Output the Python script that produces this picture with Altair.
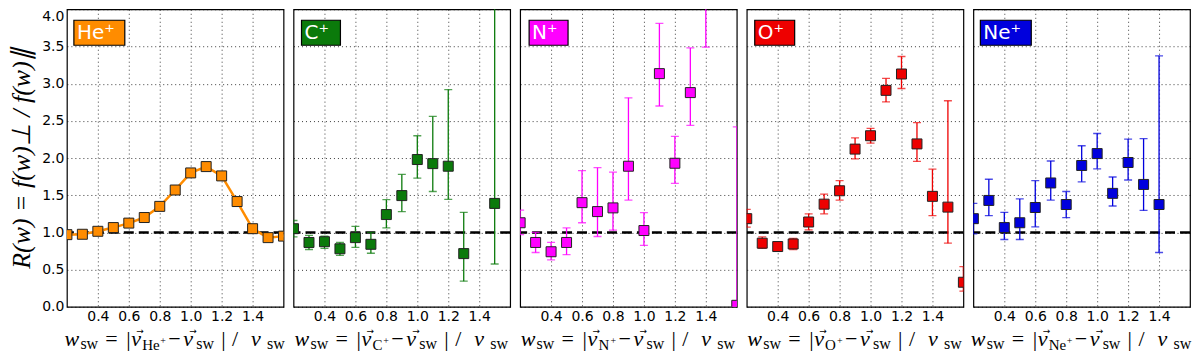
import altair as alt
import pandas as pd

# ---- data ----
w_vals = [0.2, 0.3, 0.4, 0.5, 0.6, 0.7, 0.8, 0.9, 1.0, 1.1, 1.2, 1.3, 1.4, 1.5, 1.6]

he_w = w_vals
he_r = [0.97, 0.975, 1.015, 1.065, 1.125, 1.20, 1.35, 1.57, 1.80, 1.885, 1.76, 1.415, 1.05, 0.93, 0.95]

c_w = [0.2, 0.3, 0.4, 0.5, 0.6, 0.7, 0.8, 0.9, 1.0, 1.1, 1.2, 1.3, 1.5]
c_r = [1.05, 0.865, 0.875, 0.78, 0.93, 0.84, 1.24, 1.495, 1.98, 1.925, 1.89, 0.715, 1.39]
c_lo = [0.94, 0.77, 0.785, 0.69, 0.80, 0.72, 1.06, 1.28, 1.73, 1.55, 1.445, 0.345, 0.575]
c_hi = [1.16, 0.96, 0.95, 0.865, 1.08, 1.00, 1.44, 1.78, 2.30, 2.56, 2.92, 1.27, 4.40]

n_w = [0.2, 0.3, 0.4, 0.5, 0.6, 0.7, 0.8, 0.9, 1.0, 1.1, 1.2, 1.3, 1.4, 1.6]
n_r = [1.13, 0.865, 0.74, 0.865, 1.40, 1.28, 1.33, 1.89, 1.025, 3.135, 1.93, 2.88, 4.50, 0.02]
n_lo = [0.97, 0.73, 0.63, 0.70, 1.13, 0.945, 1.03, 1.435, 0.825, 2.70, 1.66, 2.44, 3.49, 0.0]
n_hi = [1.30, 1.00, 0.865, 1.06, 1.83, 1.87, 1.81, 2.81, 1.265, 3.81, 2.29, 3.48, 5.50, 2.42]

o_w = w_vals
o_r = [1.185, 0.855, 0.81, 0.845, 1.14, 1.38, 1.56, 2.12, 2.30, 2.91, 3.13, 2.19, 1.485, 1.34, 0.33]
o_lo = [1.07, 0.785, 0.745, 0.77, 1.035, 1.25, 1.435, 1.99, 2.20, 2.755, 2.935, 1.955, 1.225, 0.855, 0.21]
o_hi = [1.31, 0.94, 0.87, 0.92, 1.25, 1.515, 1.695, 2.27, 2.40, 3.07, 3.365, 2.475, 1.85, 2.77, 0.54]

ne_w = [0.2, 0.3, 0.4, 0.5, 0.6, 0.7, 0.8, 0.9, 1.0, 1.1, 1.2, 1.3, 1.4]
ne_r = [1.185, 1.43, 1.065, 1.13, 1.335, 1.665, 1.375, 1.90, 2.06, 1.525, 1.94, 1.645, 1.375]
ne_lo = [0.98, 1.225, 0.905, 0.905, 1.075, 1.435, 1.20, 1.68, 1.855, 1.355, 1.705, 1.295, 0.73]
ne_hi = [1.39, 1.715, 1.27, 1.45, 1.695, 1.96, 1.55, 2.165, 2.33, 1.745, 2.255, 2.26, 3.375]

ions = ["He⁺", "C⁺", "N⁺", "O⁺", "Ne⁺"]
ion_letters = ["He", "C", "N", "O", "Ne"]
colors = ["#ff8c00", "#0b7a0b", "#ff00ff", "#ee0000", "#0000dd"]

ref_level = [1.0]
x_ticks = [0.4, 0.6, 0.8, 1.0, 1.2, 1.4]
y_ticks = [0.0, 0.5, 1.0, 1.5, 2.0, 2.5, 3.0, 3.5, 4.0]

# ---- layout (pixels) ----
W, H = 217, 298
X0, X1, Y0, Y1 = 0.2, 1.6, 0.0, 4.0
box_widths = [51, 39, 39, 40, 51]
box_left = [7, 8, 9, 8, 7]
ion_letter_w = [18, 11, 12, 12, 18]
ion_block = [26, 19, 20, 20, 26]

xscale = alt.Scale(domain=[X0, X1], nice=False, zero=False)
yscale = alt.Scale(domain=[Y0, Y1], nice=False, zero=False)

fonts = {
    "it": dict(font="Liberation Serif", fontStyle="italic", fontSize=22),
    "rm": dict(font="Liberation Serif", fontStyle="normal", fontSize=22),
    "sub": dict(font="Liberation Serif", fontStyle="normal", fontSize=16),
    "ion": dict(font="Liberation Serif", fontStyle="normal", fontSize=15),
    "sup": dict(font="Liberation Serif", fontStyle="normal", fontSize=10),
    "arrow": dict(font="DejaVu Sans", fontStyle="normal", fontSize=9),
}
base_below = {"it": 39, "rm": 39, "sub": 42, "ion": 43, "sup": 37, "arrow": 27}


def px_to_x(px):
    return X0 + px * (X1 - X0) / W


def below_to_y(b):
    return Y0 - b * (Y1 - Y0) / H


def title_rows(i):
    d = ion_block[i] - 26
    total = 222 + d
    x0 = (W - total) / 2.0
    rows = [("it", "w", 0), ("sub", "sw", 16), ("rm", "=", 41), ("rm", "|", 62),
            ("it", "v", 67), ("arrow", "→", 72),
            ("ion", ion_letters[i], 78), ("sup", "+", 78 + ion_letter_w[i]),
            ("rm", "−", 104 + d), ("it", "v", 119 + d), ("arrow", "→", 125 + d),
            ("sub", "sw", 132 + d), ("rm", "|", 157 + d), ("rm", "/", 168 + d),
            ("it", "v", 187 + d), ("sub", "sw", 203 + d)]
    out = {}
    for kind, txt, rel in rows:
        out.setdefault(kind, []).append(
            {"tx": px_to_x(x0 + rel), "ty": below_to_y(base_below[kind]), "t": txt})
    return out


def panel(i, wv, rv, lo=None, hi=None, line=False):
    col = colors[i]
    first = i == 0
    xaxis = alt.Axis(values=x_ticks, format=".1f", title=None)
    if first:
        yaxis = alt.Axis(values=y_ticks, format=".1f",
                         title="R(w) = f(w)⊥ / f(w)∥",
                         labelBaseline={"condition": {"test": "datum.value == 4", "value": "top"},
                                        "value": "middle"})
    else:
        yaxis = alt.Axis(values=y_ticks, labels=False, title=None)

    def X(f):
        return alt.X(f, type="quantitative", scale=xscale, axis=xaxis)

    def Y(f):
        return alt.Y(f, type="quantitative", scale=yscale, axis=yaxis)

    df = pd.DataFrame({"w": wv, "r": rv})
    base = alt.Chart(df)
    layers = []
    ref = alt.Chart(pd.DataFrame({"r": ref_level})).mark_rule(
        color="black", strokeWidth=2.5, strokeDash=[10, 5], clip=True
    ).encode(y=Y("r"))
    layers.append(ref)
    if lo is not None:
        edf = pd.DataFrame({"w": wv, "lo": lo, "hi": hi})
        eb = alt.Chart(edf)
        layers.append(eb.mark_rule(color=col, strokeWidth=1.3, clip=True).encode(
            x=X("w"), y=Y("lo"), y2="hi:Q"))
        for f in ("lo", "hi"):
            layers.append(eb.mark_tick(color=col, thickness=1.3, size=8,
                                       orient="horizontal", clip=True).encode(
                x=X("w"), y=Y(f)))
    if line:
        layers.append(base.mark_line(color=col, strokeWidth=2.5, clip=True).encode(
            x=X("w"), y=Y("r")))
    layers.append(base.mark_square(size=100, filled=True, color=col, stroke="#222222",
                                   strokeWidth=1, opacity=1, clip=True).encode(
        x=X("w"), y=Y("r")))
    # ion label box
    lab = pd.DataFrame({"label": [ions[i]]})
    layers.append(alt.Chart(lab).mark_rect(fill=col, stroke="black", strokeWidth=1.2).encode(
        x=alt.value(box_left[i]), x2=alt.value(box_left[i] + box_widths[i]),
        y=alt.value(11), y2=alt.value(36)))
    layers.append(alt.Chart(lab).mark_text(color="white", font="DejaVu Sans", fontSize=20,
                                           align="left", baseline="middle").encode(
        x=alt.value(box_left[i] + 3), y=alt.value(24), text="label:N"))
    # x-axis title composed of pieces (main text, subscripts, arrows)
    for kind, rows in title_rows(i).items():
        layers.append(alt.Chart(pd.DataFrame(rows)).mark_text(
            color="black", align="left", baseline="alphabetic", **fonts[kind]).encode(
            x=X("tx"), y=Y("ty"), text="t:N"))
    return alt.layer(*layers).properties(width=W, height=H)


charts = [
    panel(0, he_w, he_r, line=True),
    panel(1, c_w, c_r, c_lo, c_hi),
    panel(2, n_w, n_r, n_lo, n_hi),
    panel(3, o_w, o_r, o_lo, o_hi),
    panel(4, ne_w, ne_r, ne_lo, ne_hi),
]

chart = alt.hconcat(*charts, spacing=10, bounds="flush").properties(
    padding={"left": 0, "top": 0, "right": 0, "bottom": 0}
).configure_view(
    stroke="black", strokeWidth=1.2
).configure_axis(
    grid=True, gridColor="black", gridDash=[1, 3], gridOpacity=0.85, gridWidth=0.9,
    domain=False, ticks=False,
    labelFont="DejaVu Sans", labelFontSize=14, labelColor="black", labelPadding=3,
    titleFont="Liberation Serif", titleFontStyle="italic", titleFontWeight="normal",
    titleColor="black",
).configure_axisY(
    titleFontSize=26, titlePadding=7
)

chart.save("out.html", embed_options={"renderer": "svg", "actions": False})
